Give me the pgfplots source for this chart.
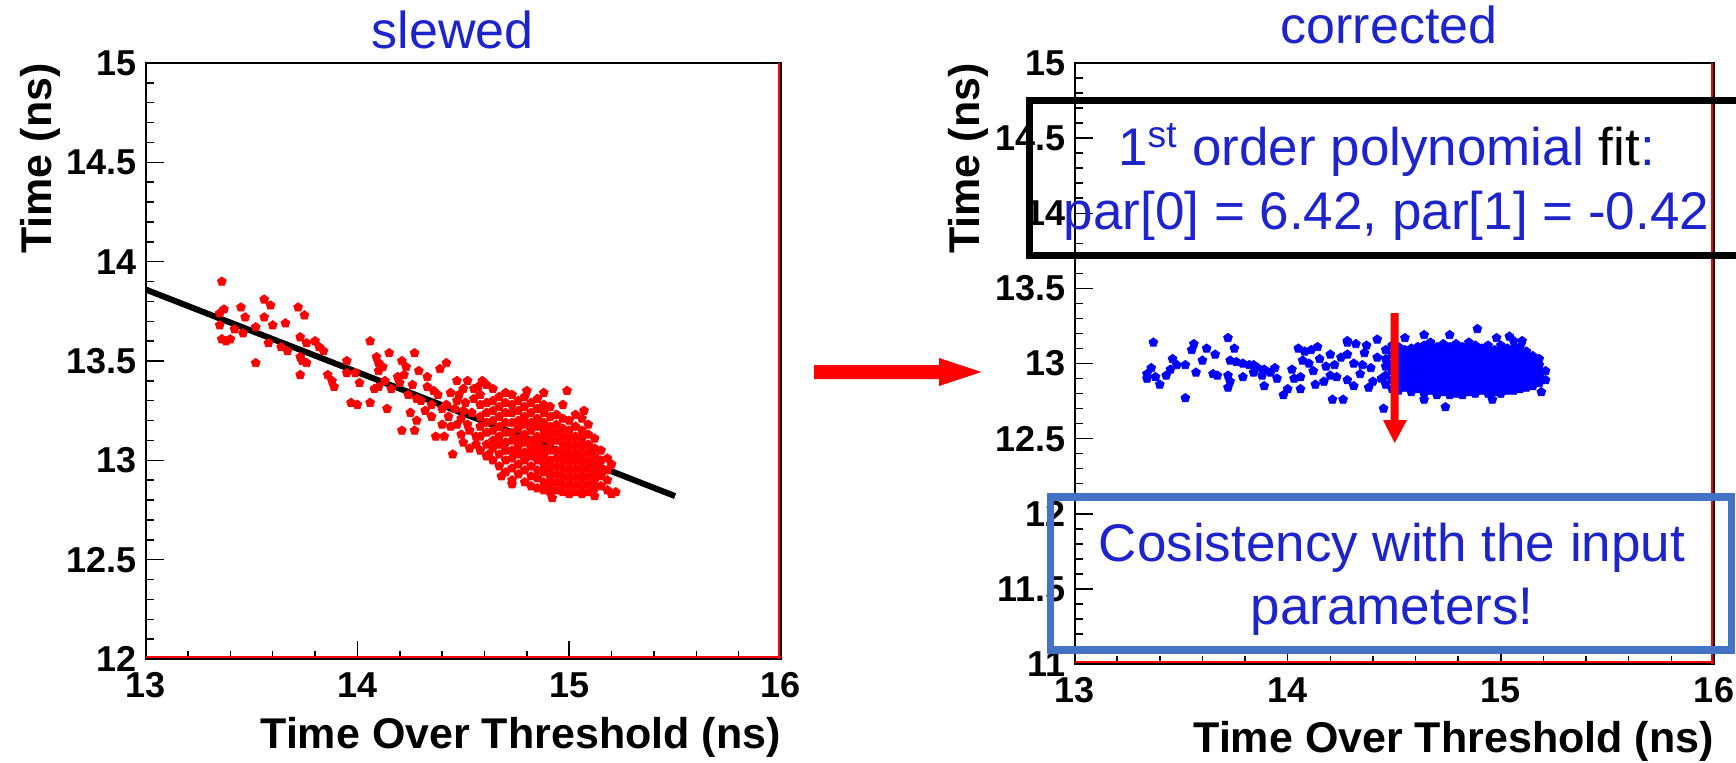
\documentclass[border=0pt]{standalone}
\usepackage{pgfplots}
\pgfplotsset{compat=1.18}
\usepackage{fontspec}
\setmainfont{Liberation Sans}
\definecolor{txtblue}{RGB}{30,36,204}
\definecolor{boxblue}{RGB}{68,114,196}

\pgfplotstableread{
x y
13.36 13.90
13.35 13.74
13.37 13.76
13.35 13.68
13.36 13.61
13.38 13.60
13.40 13.61
13.42 13.66
13.45 13.77
13.47 13.72
13.46 13.64
13.52 13.67
13.52 13.49
13.56 13.81
13.59 13.78
13.56 13.72
13.60 13.68
13.58 13.59
13.66 13.69
13.72 13.77
13.75 13.73
13.64 13.57
13.67 13.55
13.73 13.62
13.76 13.59
13.80 13.60
13.82 13.57
13.84 13.55
13.73 13.52
13.74 13.50
13.76 13.49
13.73 13.43
13.86 13.43
13.88 13.40
13.89 13.37
13.95 13.50
13.95 13.44
13.99 13.44
14.01 13.39
14.06 13.60
13.97 13.29
14.00 13.28
14.06 13.29
14.09 13.52
14.10 13.49
14.12 13.47
14.10 13.45
14.15 13.54
14.21 13.50
14.23 13.47
14.27 13.54
14.19 13.42
14.20 13.39
14.14 13.26
14.08 13.36
14.10 13.37
14.25 13.24
14.28 13.20
14.21 13.15
14.27 13.15
14.29 13.45
14.33 13.42
14.33 13.37
14.36 13.35
14.39 13.46
14.42 13.49
14.37 13.12
14.41 13.12
14.45 13.03
14.50 13.09
14.13 13.40
14.16 13.36
14.24 13.33
14.30 13.30
14.35 13.28
14.40 13.26
14.44 13.34
14.47 13.30
14.43 13.22
14.47 13.18
14.52 13.40
14.55 13.36
14.50 13.25
14.53 13.15
14.56 13.08
14.46 13.26
14.48 13.33
14.49 13.21
14.51 13.29
14.52 13.18
14.54 13.24
14.55 13.31
14.57 13.37
14.47 13.40
14.44 13.17
14.56 13.12
14.53 13.06
14.49 13.13
14.59 13.40
14.62 13.03
14.50 13.36
14.42 13.28
14.38 13.33
14.35 13.22
14.40 13.18
14.32 13.25
14.28 13.31
14.26 13.38
14.22 13.43
14.58 13.05
14.58 13.12
14.58 13.17
14.58 13.22
14.58 13.28
14.58 13.33
14.61 13.02
14.61 13.08
14.61 13.14
14.61 13.19
14.61 13.24
14.61 13.29
14.61 13.38
14.64 13.00
14.64 13.06
14.64 13.10
14.64 13.15
14.64 13.20
14.64 13.25
14.64 13.30
14.64 13.36
14.67 12.97
14.67 13.03
14.67 13.08
14.67 13.12
14.67 13.17
14.67 13.22
14.67 13.27
14.67 13.32
14.70 12.94
14.70 13.00
14.70 13.05
14.70 13.09
14.70 13.14
14.70 13.19
14.70 13.24
14.70 13.29
14.70 13.34
14.73 12.90
14.73 12.96
14.73 13.01
14.73 13.05
14.73 13.10
14.73 13.14
14.73 13.19
14.73 13.24
14.73 13.28
14.73 13.33
14.76 12.93
14.76 12.98
14.76 13.03
14.76 13.07
14.76 13.11
14.76 13.16
14.76 13.20
14.76 13.25
14.76 13.30
14.79 12.89
14.79 12.95
14.79 13.00
14.79 13.04
14.79 13.09
14.79 13.13
14.79 13.18
14.79 13.22
14.79 13.27
14.79 13.32
14.82 12.87
14.82 12.92
14.82 12.97
14.82 13.02
14.82 13.06
14.82 13.10
14.82 13.15
14.82 13.19
14.82 13.24
14.82 13.29
14.85 12.86
14.85 12.91
14.85 12.95
14.85 13.00
14.85 13.04
14.85 13.08
14.85 13.12
14.85 13.17
14.85 13.21
14.85 13.26
14.85 13.31
14.88 12.85
14.88 12.89
14.88 12.94
14.88 12.98
14.88 13.02
14.88 13.06
14.88 13.11
14.88 13.15
14.88 13.19
14.88 13.24
14.88 13.28
14.91 12.84
14.91 12.88
14.91 12.92
14.91 12.96
14.91 13.00
14.91 13.05
14.91 13.09
14.91 13.13
14.91 13.17
14.91 13.22
14.91 13.27
14.94 12.85
14.94 12.89
14.94 12.93
14.94 12.97
14.94 13.01
14.94 13.05
14.94 13.10
14.94 13.14
14.94 13.18
14.94 13.23
14.97 12.84
14.97 12.88
14.97 12.92
14.97 12.96
14.97 13.00
14.97 13.04
14.97 13.08
14.97 13.12
14.97 13.16
14.97 13.21
15.00 12.83
15.00 12.87
15.00 12.91
15.00 12.95
15.00 12.99
15.00 13.03
15.00 13.07
15.00 13.11
15.00 13.15
15.00 13.20
15.03 12.84
15.03 12.88
15.03 12.92
15.03 12.96
15.03 13.00
15.03 13.04
15.03 13.08
15.03 13.12
15.03 13.17
15.03 13.23
15.06 12.83
15.06 12.87
15.06 12.91
15.06 12.95
15.06 12.99
15.06 13.03
15.06 13.07
15.06 13.11
15.06 13.15
15.06 13.21
15.09 12.84
15.09 12.88
15.09 12.92
15.09 12.96
15.09 13.00
15.09 13.04
15.09 13.08
15.09 13.13
15.09 13.18
15.12 12.86
15.12 12.90
15.12 12.94
15.12 12.98
15.12 13.02
15.12 13.06
15.12 13.11
15.15 12.87
15.15 12.92
15.15 12.96
15.15 13.00
15.15 13.05
15.18 12.85
15.18 12.90
15.18 12.95
15.18 13.01
15.22 12.84
15.20 12.83
15.12 12.82
14.73 12.88
14.68 12.92
14.99 13.35
14.88 13.34
14.80 13.35
15.07 13.25
14.97 13.28
15.20 12.98
14.92 12.81
}\slewed

\pgfplotstableread{
x y
13.34 12.93
13.34 12.90
13.37 13.14
13.36 12.97
13.38 12.91
13.40 12.86
13.43 12.92
13.45 12.96
13.46 13.03
13.48 12.99
13.52 12.99
13.52 12.77
13.56 13.13
13.55 13.09
13.60 13.02
13.57 12.94
13.62 13.10
13.66 13.06
13.65 12.93
13.67 12.92
13.72 13.17
13.75 13.10
13.73 13.02
13.76 13.01
13.79 13.00
13.82 12.99
13.84 12.99
13.72 12.92
13.73 12.88
13.72 12.84
13.79 12.91
13.86 12.97
13.89 12.96
13.92 12.94
13.95 12.90
13.89 12.85
13.88 12.92
13.98 12.79
14.00 12.83
14.02 12.96
14.03 12.90
14.05 13.10
14.08 13.08
14.11 13.09
14.14 13.11
14.07 13.02
14.10 13.00
14.15 13.03
14.20 13.06
14.06 12.91
14.06 12.83
14.12 12.95
14.17 12.88
14.20 12.92
14.21 12.76
14.26 12.76
14.28 13.14
14.32 13.13
14.25 13.04
14.28 13.06
14.31 13.00
14.36 13.07
14.37 13.12
14.23 12.91
14.28 12.89
14.31 12.85
14.34 12.93
14.38 12.84
14.40 12.88
14.44 12.90
14.45 12.70
14.39 12.97
14.42 13.04
14.35 12.99
14.18 12.98
14.13 12.86
14.22 12.99
13.94 12.97
13.84 12.94
14.46 12.86
14.46 12.92
14.46 12.98
14.46 13.03
14.46 13.09
14.49 12.83
14.49 12.89
14.49 12.95
14.49 13.00
14.49 13.06
14.49 13.12
14.52 12.82
14.52 12.87
14.52 12.92
14.52 12.97
14.52 13.02
14.52 13.07
14.52 13.11
14.55 12.84
14.55 12.88
14.55 12.93
14.55 12.97
14.55 13.01
14.55 13.05
14.55 13.09
14.58 12.81
14.58 12.86
14.58 12.90
14.58 12.94
14.58 12.98
14.58 13.02
14.58 13.06
14.58 13.10
14.61 12.83
14.61 12.87
14.61 12.91
14.61 12.95
14.61 12.99
14.61 13.03
14.61 13.07
14.61 13.11
14.64 12.80
14.64 12.84
14.64 12.88
14.64 12.92
14.64 12.96
14.64 13.00
14.64 13.04
14.64 13.08
14.64 13.12
14.67 12.82
14.67 12.86
14.67 12.90
14.67 12.94
14.67 12.98
14.67 13.02
14.67 13.06
14.67 13.10
14.67 13.14
14.70 12.79
14.70 12.83
14.70 12.87
14.70 12.91
14.70 12.95
14.70 12.99
14.70 13.03
14.70 13.07
14.70 13.11
14.73 12.81
14.73 12.85
14.73 12.89
14.73 12.93
14.73 12.97
14.73 13.01
14.73 13.05
14.73 13.09
14.73 13.13
14.76 12.79
14.76 12.83
14.76 12.87
14.76 12.91
14.76 12.95
14.76 12.99
14.76 13.03
14.76 13.07
14.76 13.11
14.79 12.80
14.79 12.84
14.79 12.88
14.79 12.92
14.79 12.96
14.79 13.00
14.79 13.04
14.79 13.08
14.79 13.13
14.82 12.79
14.82 12.83
14.82 12.87
14.82 12.91
14.82 12.95
14.82 12.99
14.82 13.03
14.82 13.07
14.82 13.11
14.85 12.81
14.85 12.85
14.85 12.89
14.85 12.93
14.85 12.97
14.85 13.01
14.85 13.05
14.85 13.09
14.85 13.14
14.88 12.80
14.88 12.84
14.88 12.88
14.88 12.92
14.88 12.96
14.88 13.00
14.88 13.04
14.88 13.08
14.88 13.12
14.91 12.82
14.91 12.86
14.91 12.90
14.91 12.94
14.91 12.98
14.91 13.02
14.91 13.06
14.91 13.10
14.94 12.80
14.94 12.84
14.94 12.88
14.94 12.92
14.94 12.96
14.94 13.00
14.94 13.04
14.94 13.08
14.94 13.12
14.97 12.81
14.97 12.85
14.97 12.89
14.97 12.93
14.97 12.97
14.97 13.01
14.97 13.05
14.97 13.09
15.00 12.80
15.00 12.84
15.00 12.88
15.00 12.92
15.00 12.96
15.00 13.00
15.00 13.04
15.00 13.08
15.00 13.12
15.03 12.82
15.03 12.86
15.03 12.90
15.03 12.94
15.03 12.98
15.03 13.02
15.03 13.06
15.03 13.10
15.06 12.82
15.06 12.86
15.06 12.90
15.06 12.94
15.06 12.98
15.06 13.02
15.06 13.06
15.06 13.10
15.06 13.15
15.09 12.83
15.09 12.87
15.09 12.91
15.09 12.95
15.09 12.99
15.09 13.03
15.09 13.07
15.09 13.11
15.12 12.84
15.12 12.88
15.12 12.92
15.12 12.96
15.12 13.00
15.12 13.04
15.12 13.08
15.15 12.85
15.15 12.89
15.15 12.93
15.15 12.97
15.15 13.01
15.15 13.05
15.18 12.87
15.18 12.91
15.18 12.95
15.18 12.99
15.18 13.03
15.21 12.89
15.21 12.95
14.89 13.23
14.76 13.19
14.64 13.19
15.04 13.18
15.10 13.15
14.28 13.15
14.42 13.16
14.64 12.76
14.74 12.71
14.96 12.76
15.19 12.81
14.55 13.17
14.98 13.17
}\corrected

\pgfplotsset{rootaxis/.style={
  scale only axis,
  xmin=13, xmax=16,
  xtick={13,14,15,16},
  minor x tick num=4, minor y tick num=4,
  tick align=inside, tick pos=left,
  axis line style={line width=1pt, black},
  tick style={line width=0.75pt, black},
  major tick length=9pt, minor tick length=4.25pt,
  /pgf/number format/assume math mode=true,
  ticklabel style={font=\bfseries\fontsize{18}{18}\selectfont, inner sep=0pt},
  xticklabel style={anchor=north, yshift=-6.5pt},
  yticklabel style={anchor=east, xshift=-4.3pt},
  label style={font=\bfseries\fontsize{21.5}{21.5}\selectfont, inner sep=0pt},
  xlabel={Time Over Threshold (ns)},
  ylabel={Time (ns)},
  xlabel style={at={(axis description cs:1,0)}, anchor=base east, yshift=-44.5pt},
  ylabel style={at={(axis description cs:-0.1977,1)}, anchor=north east},
}}

\begin{document}
\begin{tikzpicture}
\path[use as bounding box] (0,0) rectangle (868pt,381pt);

% left panel
\begin{axis}[rootaxis,
  at={(72.8pt,51.5pt)}, anchor=south west,
  width=317.7pt, height=298pt,
  ymin=12, ymax=15, ytick={12,12.5,13,13.5,14,14.5,15}]
\addplot[only marks, mark=pentagon*, mark size=2.3pt, mark options={draw=red, fill=red}] table[x=x,y=y] {\slewed};
\addplot[black, line width=3pt] coordinates {(13,13.86) (15.5,12.82)};
\draw[red, line width=1pt] ([xshift=-0.8pt]rel axis cs:1,0) -- ([xshift=-0.8pt]rel axis cs:1,1);
\draw[red, line width=1pt] ([yshift=0.8pt]rel axis cs:0,0) -- ([yshift=0.8pt]rel axis cs:1,0);
\end{axis}

% right panel
\begin{axis}[rootaxis,
  at={(537.25pt,49pt)}, anchor=south west,
  width=319.75pt, height=300.5pt,
  ymin=11, ymax=15, ytick={11,11.5,12,12.5,13,13.5,14,14.5,15},
  xlabel style={yshift=0.5pt}]
\addplot[only marks, mark=pentagon*, mark size=2.3pt, mark options={draw=blue, fill=blue}] table[x=x,y=y] {\corrected};
\draw[red, line width=1pt] ([xshift=-0.8pt]rel axis cs:1,0) -- ([xshift=-0.8pt]rel axis cs:1,1);
\draw[red, line width=1pt] ([yshift=0.8pt]rel axis cs:0,0) -- ([yshift=0.8pt]rel axis cs:1,0);
\end{axis}

% titles
\node[anchor=base, text=txtblue, font=\fontsize{26}{26}\selectfont, inner sep=0pt] at (226.25pt,356.8pt) {slewed};
\node[anchor=base, text=txtblue, font=\fontsize{26}{26}\selectfont, inner sep=0pt] at (694.5pt,359pt) {corrected};

% big red arrow between panels
\fill[red] (407pt,191.5pt) -- (469.5pt,191.5pt) -- (469.5pt,188pt) -- (490.75pt,195pt) -- (469.5pt,202pt) -- (469.5pt,198.5pt) -- (407pt,198.5pt) -- cycle;

% vertical red arrow
\fill[red] (695.35pt,224.5pt) -- (699.35pt,224.5pt) -- (699.35pt,171pt) -- (703.5pt,171pt) -- (697.35pt,159.5pt) -- (691.5pt,171pt) -- (695.35pt,171pt) -- cycle;

% black box
\draw[black, line width=3.5pt] (880pt,330.5pt) -- (514.75pt,330.5pt) -- (514.75pt,253.25pt) -- (880pt,253.25pt);
\node[anchor=base, text=txtblue, font=\fontsize{26.5}{26.5}\selectfont, inner sep=0pt] at (693.25pt,298pt) {1\textsuperscript{st} order polynomial \textcolor{black}{fit}:};
\node[anchor=base, text=txtblue, font=\fontsize{26.5}{26.5}\selectfont, inner sep=0pt] at (693.25pt,266pt) {par[0] = 6.42, par[1] = -0.42};

% blue box
\draw[boxblue, line width=3.75pt] (525.25pt,56pt) rectangle (865.75pt,132.5pt);
\node[anchor=base, text=txtblue, font=\fontsize{26.5}{26.5}\selectfont, inner sep=0pt] at (696pt,100.5pt) {Cosistency with the input};
\node[anchor=base, text=txtblue, font=\fontsize{26.5}{26.5}\selectfont, inner sep=0pt] at (696pt,69pt) {parameters!};
\end{tikzpicture}
\end{document}
